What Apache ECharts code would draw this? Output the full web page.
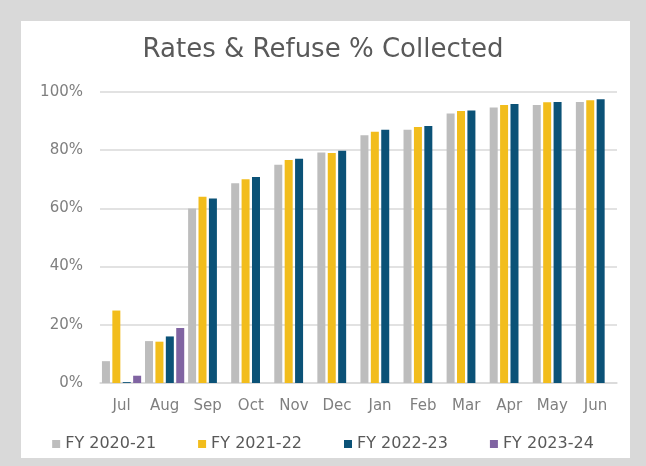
<!DOCTYPE html>
<html>
<head>
<meta charset="utf-8">
<script src="https://cdn.jsdelivr.net/npm/echarts@6/dist/echarts.min.js"></script>
<style>
    html, body {margin: 0; padding: 0; background: #d9d9d9;}
    #container {width: 646px; height: 466px;}
</style>
</head>
<body>
<div id="container"></div>
<script>
var months = ['Jul', 'Aug', 'Sep', 'Oct', 'Nov', 'Dec', 'Jan', 'Feb', 'Mar', 'Apr', 'May', 'Jun'];
var fy2021 = [7.5, 14.4, 60.0, 68.6, 75.0, 79.2, 85.1, 87.0, 92.6, 94.7, 95.5, 96.6];
var fy2122 = [24.9, 14.2, 64.0, 70.0, 76.6, 79.0, 86.3, 88.0, 93.5, 95.5, 96.5, 97.2];
var fy2223 = [0.3, 16.0, 63.4, 70.8, 77.1, 79.8, 87.0, 88.3, 93.6, 95.9, 96.6, 97.5];
var fy2324 = [2.5, 18.9, null, null, null, null, null, null, null, null, null, null];
var yTicks = [0, 20, 40, 60, 80, 100];

var textFont = 'DejaVu Sans';

function makeSeries(name, data, color) {
    return {
        name: name,
        type: 'bar',
        data: data,
        barWidth: 8,
        barGap: '30%',
        itemStyle: {color: color}
    };
}

var dom = document.getElementById('container');
var myChart = echarts.init(dom, null, {renderer: 'canvas'});
var option = {
    backgroundColor: '#d9d9d9',
    animation: false,
    graphic: [
        {
            type: 'rect',
            z: -10,
            shape: {x: 21, y: 21, width: 609, height: 437},
            style: {fill: '#ffffff'}
        }
    ],
    title: {
        text: 'Rates & Refuse % Collected',
        left: 'center',
        top: 32,
        textStyle: {
            color: '#595959',
            fontSize: 26,
            fontWeight: 'normal',
            fontFamily: textFont
        }
    },
    legend: {
        bottom: 9,
        left: 'center',
        itemWidth: 8,
        itemHeight: 8,
        itemGap: 42,
        icon: 'rect',
        textStyle: {
            color: '#595959',
            fontSize: 16,
            fontFamily: textFont
        },
        data: ['FY 2020-21', 'FY 2021-22', 'FY 2022-23', 'FY 2023-24']
    },
    grid: {
        left: 100,
        right: 29,
        top: 92,
        bottom: 83,
        containLabel: false
    },
    xAxis: {
        type: 'category',
        data: months,
        axisTick: {show: false},
        axisLine: {lineStyle: {color: '#d9d9d9', width: 1.5}},
        axisLabel: {
            color: '#7f7f7f',
            fontSize: 15,
            fontFamily: textFont,
            margin: 16
        }
    },
    yAxis: {
        type: 'value',
        min: yTicks[0],
        max: yTicks[yTicks.length - 1],
        interval: 20,
        axisLine: {show: false},
        axisTick: {show: false},
        splitLine: {lineStyle: {color: '#d9d9d9', width: 1.5}},
        axisLabel: {
            color: '#7f7f7f',
            fontSize: 15,
            fontFamily: textFont,
            margin: 17,
            formatter: '{value}%'
        }
    },
    series: [
        makeSeries('FY 2020-21', fy2021, '#bdbdbd'),
        makeSeries('FY 2021-22', fy2122, '#f2bd1c'),
        makeSeries('FY 2022-23', fy2223, '#0b5277'),
        makeSeries('FY 2023-24', fy2324, '#8064a2')
    ]
};
myChart.setOption(option, true);
</script>
</body>
</html>
